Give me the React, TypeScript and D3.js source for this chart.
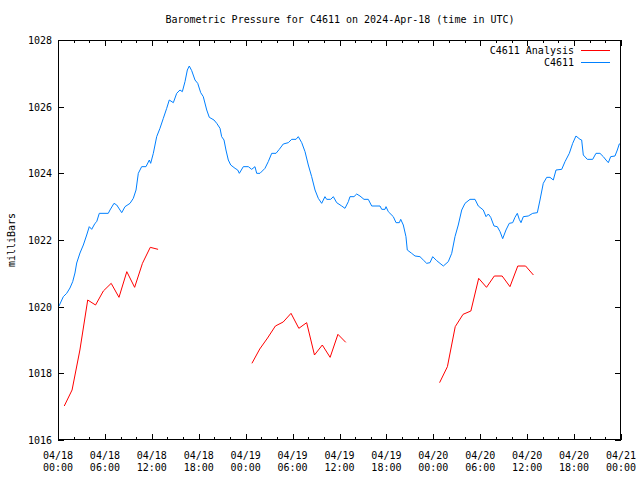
import React from "react";
import * as d3 from "d3";

const TITLE = "Barometric Pressure for C4611 on 2024-Apr-18 (time in UTC)";
const Y_LABEL = "milliBars";

// hours since 2024-04-18 00:00 UTC
const stationHours = [
  0.13, 0.68, 1.11, 1.53, 1.88, 2.17, 2.39, 2.81, 3.24, 3.67, 4.0, 4.31, 4.73, 4.95, 5.28, 6.43, 6.65, 7.16, 7.51, 8.15,
  8.57, 9.21, 9.63, 9.98, 10.27, 10.7, 11.25, 11.68, 11.85, 12.19, 12.62, 13.04, 13.47, 13.9, 14.23, 14.75, 15.18, 15.6, 15.9, 16.24,
  16.54, 16.79, 17.1, 17.52, 17.87, 18.25, 18.58, 19.02, 19.35, 19.95, 20.3, 20.72, 20.93, 21.23, 21.48, 21.78, 22.09, 22.64, 22.98, 23.19,
  23.7, 24.34, 24.77, 25.19, 25.41, 25.83, 26.47, 26.89, 27.33, 27.88, 28.3, 28.81, 29.45, 29.89, 30.44, 30.73, 31.17, 31.59, 32.01, 32.44,
  32.87, 33.29, 33.72, 34.14, 34.36, 34.87, 35.21, 35.64, 36.28, 36.7, 37.13, 37.34, 37.85, 38.2, 38.62, 39.13, 39.68, 40.12, 41.18, 41.4,
  41.82, 41.95, 42.24, 42.88, 43.23, 43.65, 43.83, 44.16, 44.5, 44.67, 45.23, 45.66, 46.29, 46.72, 47.15, 47.57, 47.92, 48.43, 48.85, 49.28,
  49.91, 50.35, 50.77, 51.19, 51.63, 52.05, 52.69, 53.33, 53.75, 54.39, 54.74, 55.03, 55.34, 55.76, 56.18, 56.53, 56.87, 57.29, 57.71, 58.15,
  58.44, 58.74, 58.99, 59.21, 59.51, 60.14, 60.71, 61.3, 61.64, 62.06, 62.5, 62.92, 63.34, 63.69, 64.42, 64.84, 65.39, 65.82, 66.24, 66.76,
  66.97, 67.18, 67.69, 68.38, 68.8, 69.31, 69.74, 70.08, 70.38, 70.68, 71.23, 71.53, 71.78, 72.0,
];
const stationValues = [
  1020.02, 1020.3, 1020.4, 1020.56, 1020.75, 1021.01, 1021.31, 1021.61, 1021.85, 1022.15, 1022.4, 1022.32, 1022.5, 1022.55, 1022.8, 1022.8, 1022.9, 1023.1, 1023.05, 1022.82,
  1023.0, 1023.1, 1023.25, 1023.5, 1024.0, 1024.2, 1024.2, 1024.4, 1024.3, 1024.6, 1025.1, 1025.35, 1025.65, 1025.95, 1026.2, 1026.12, 1026.4, 1026.5, 1026.45, 1026.75,
  1027.1, 1027.22, 1027.08, 1026.8, 1026.7, 1026.42, 1026.3, 1025.9, 1025.68, 1025.6, 1025.5, 1025.35, 1025.1, 1025.0, 1024.7, 1024.4, 1024.25, 1024.15, 1024.1, 1024.0,
  1024.2, 1024.2, 1024.12, 1024.2, 1024.0, 1024.0, 1024.15, 1024.35, 1024.6, 1024.6, 1024.72, 1024.88, 1024.92, 1025.02, 1025.02, 1025.1, 1024.92, 1024.65, 1024.25, 1023.9,
  1023.5, 1023.25, 1023.1, 1023.3, 1023.22, 1023.22, 1023.3, 1023.12, 1023.02, 1022.95, 1023.15, 1023.3, 1023.3, 1023.38, 1023.32, 1023.22, 1023.22, 1023.02, 1023.02, 1022.92,
  1022.92, 1023.0, 1022.85, 1022.7, 1022.52, 1022.52, 1022.62, 1022.45, 1022.1, 1021.7, 1021.6, 1021.52, 1021.5, 1021.4, 1021.3, 1021.32, 1021.5, 1021.38, 1021.3, 1021.22,
  1021.35, 1021.6, 1022.1, 1022.45, 1022.9, 1023.1, 1023.22, 1023.22, 1023.02, 1022.9, 1022.7, 1022.78, 1022.68, 1022.42, 1022.4, 1022.25, 1022.04, 1022.3, 1022.5, 1022.52,
  1022.68, 1022.8, 1022.62, 1022.52, 1022.7, 1022.72, 1022.8, 1022.82, 1023.2, 1023.7, 1023.88, 1023.88, 1023.8, 1024.1, 1024.12, 1024.35, 1024.6, 1024.9, 1025.12, 1025.02,
  1025.0, 1024.55, 1024.42, 1024.42, 1024.6, 1024.6, 1024.5, 1024.4, 1024.32, 1024.5, 1024.52, 1024.7, 1024.88, 1024.91,
];

// Analysis runs (hourly)
const analysisHours1 = [0.8, 1.8, 2.8, 3.8, 4.8, 5.8, 6.8, 7.8, 8.8, 9.8, 10.8, 11.8, 12.8];
const analysisValues1 = [1017.02, 1017.5, 1018.7, 1020.2, 1020.05, 1020.47, 1020.7, 1020.28, 1021.05, 1020.58, 1021.3, 1021.78, 1021.72];
const analysisHours2 = [24.8, 25.8, 26.8, 27.8, 28.8, 29.8, 30.8, 31.8, 32.8, 33.8, 34.8, 35.8, 36.8];
const analysisValues2 = [1018.3, 1018.73, 1019.06, 1019.42, 1019.54, 1019.8, 1019.35, 1019.52, 1018.55, 1018.85, 1018.48, 1019.17, 1018.93];
const analysisHours3 = [48.8, 49.8, 50.8, 51.8, 52.8, 53.8, 54.8, 55.8, 56.8, 57.8, 58.8, 59.8, 60.8];
const analysisValues3 = [1017.72, 1018.2, 1019.4, 1019.77, 1019.87, 1020.85, 1020.58, 1020.92, 1020.92, 1020.6, 1021.22, 1021.22, 1020.95];

const xTickHours = [0, 6, 12, 18, 24, 30, 36, 42, 48, 54, 60, 66, 72];
const xTickDates = ["04/18", "04/18", "04/18", "04/18", "04/19", "04/19", "04/19", "04/19", "04/20", "04/20", "04/20", "04/20", "04/21"];
const xTickTimes = ["00:00", "06:00", "12:00", "18:00", "00:00", "06:00", "12:00", "18:00", "00:00", "06:00", "12:00", "18:00", "00:00"];
const yTicks = [1016, 1018, 1020, 1022, 1024, 1026, 1028];

const seriesNames = ["C4611 Analysis", "C4611"];
const seriesColors = ["#ff0000", "#0080ff"];

const W = 640;
const H = 480;
const M = { left: 58, right: 621, top: 40, bottom: 440 };
const FONT = "'DejaVu Sans Mono', 'Liberation Mono', monospace";

export default function App() {
  const x = d3.scaleLinear().domain([0, 72]).range([M.left, M.right]);
  const y = d3.scaleLinear().domain([1016, 1028]).range([M.bottom, M.top]);
  const line = d3
    .line<[number, number]>()
    .x((d) => x(d[0]))
    .y((d) => y(d[1]));

  const station: [number, number][] = stationHours.map((h, i) => [h, stationValues[i]]);
  const analysis: [number, number][][] = [
    analysisHours1.map((h, i) => [h, analysisValues1[i]] as [number, number]),
    analysisHours2.map((h, i) => [h, analysisValues2[i]] as [number, number]),
    analysisHours3.map((h, i) => [h, analysisValues3[i]] as [number, number]),
  ];

  const minorHours = d3.range(0, 73, 2).filter((h) => h % 6 !== 0);

  return (
    <svg
      width={W}
      height={H}
      style={{ position: "absolute", left: 0, top: 0, display: "block", background: "#fff" }}
      fontFamily={FONT}
      fontSize={10}
    >
      <rect x={0} y={0} width={W} height={H} fill="#fff" />
      <text x={340} y={23} textAnchor="middle" fill="#000">
        {TITLE}
      </text>

      {/* y ticks */}
      {yTicks.map((v) => (
        <g key={"y" + v} shapeRendering="crispEdges">
          <line x1={M.left} x2={M.left + 6} y1={Math.round(y(v)) + 0.5} y2={Math.round(y(v)) + 0.5} stroke="#000" />
          <line x1={M.right - 6} x2={M.right} y1={Math.round(y(v)) + 0.5} y2={Math.round(y(v)) + 0.5} stroke="#000" />
          <text x={52} y={y(v) + 4} textAnchor="end" fill="#000">
            {v}
          </text>
        </g>
      ))}

      {/* x ticks */}
      {xTickHours.map((h, i) => (
        <g key={"x" + h} shapeRendering="crispEdges">
          <line x1={Math.round(x(h)) + 0.5} x2={Math.round(x(h)) + 0.5} y1={M.bottom} y2={M.bottom - 6} stroke="#000" />
          <line x1={Math.round(x(h)) + 0.5} x2={Math.round(x(h)) + 0.5} y1={M.top} y2={M.top + 6} stroke="#000" />
          <text x={x(h)} y={459} textAnchor="middle" fill="#000">
            {xTickDates[i]}
          </text>
          <text x={x(h)} y={471} textAnchor="middle" fill="#000">
            {xTickTimes[i]}
          </text>
        </g>
      ))}
      {minorHours.map((h) => (
        <g key={"m" + h} shapeRendering="crispEdges">
          <line x1={Math.round(x(h)) + 0.5} x2={Math.round(x(h)) + 0.5} y1={M.bottom} y2={M.bottom - 3} stroke="#000" />
          <line x1={Math.round(x(h)) + 0.5} x2={Math.round(x(h)) + 0.5} y1={M.top} y2={M.top + 3} stroke="#000" />
        </g>
      ))}

      {/* y label */}
      <text transform={`translate(15,${(M.top + M.bottom) / 2}) rotate(-90)`} textAnchor="middle" fill="#000">
        {Y_LABEL}
      </text>

      {/* data */}
      {analysis.map((seg, i) => (
        <path key={"a" + i} d={line(seg) || ""} fill="none" stroke={seriesColors[0]} strokeWidth={1} />
      ))}
      <path d={line(station) || ""} fill="none" stroke={seriesColors[1]} strokeWidth={1} />

      {/* frame */}
      <rect
        x={M.left + 0.5}
        y={M.top + 0.5}
        width={M.right - M.left - 1}
        height={M.bottom - M.top - 1}
        fill="none"
        stroke="#000"
        shapeRendering="crispEdges"
      />

      {/* legend */}
      {seriesNames.map((name, i) => (
        <g key={"l" + i}>
          <text x={574} y={54 + i * 12} textAnchor="end" fill="#000">
            {name}
          </text>
          <line x1={581} x2={610} y1={50.5 + i * 12} y2={50.5 + i * 12} stroke={seriesColors[i]} shapeRendering="crispEdges" />
        </g>
      ))}
    </svg>
  );
}
